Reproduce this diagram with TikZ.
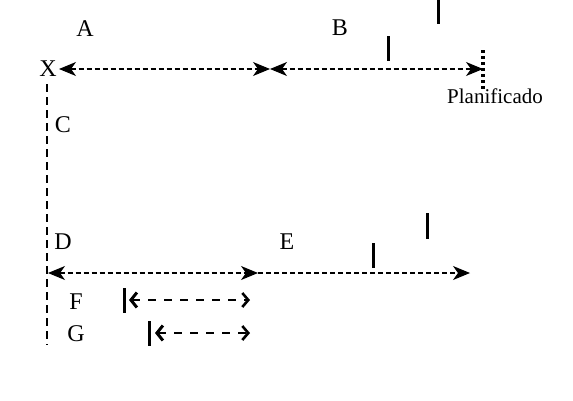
\documentclass[tikz,border=0pt]{standalone}
\usepackage{fontspec}
\setmainfont{Liberation Serif}
\usetikzlibrary{arrows.meta}
\begin{document}
\begin{tikzpicture}[x=1pt,y=-1pt,
  lbl/.style={inner sep=0pt,font=\fontsize{24}{26}\selectfont},
  small/.style={inner sep=0pt,font=\fontsize{21}{23}\selectfont},
  mainline/.style={line width=1.1pt,dash pattern=on 5pt off 3pt},
  subline/.style={line width=2.6pt,dash pattern=on 8pt off 8pt},
  tick/.style={line width=3pt}
]
\useasboundingbox (0,0) rectangle (573,400);
% labels
\node[lbl] (A) at (85,29) {A};
\node[lbl] (B) at (340,28) {B};
\node[lbl] (X) at (48,69) {X};
\node[lbl] (C) at (63,125) {C};
\node[lbl] (D) at (63,242) {D};
\node[lbl] (E) at (287,242) {E};
\node[lbl] (F) at (76,302) {F};
\node[lbl] (G) at (76,334) {G};
\node[small] (P) at (495,96) {Planificado};
% coordinates
\coordinate (t0) at (59,69);
\coordinate (t1) at (270,69);
\coordinate (t2) at (483,69);
\coordinate (b0) at (48,273);
\coordinate (b1) at (258,273);
\coordinate (b2) at (470,273);
\coordinate (v0) at (47,84);
\coordinate (v1) at (47,345);
\coordinate (f0) at (129,300);
\coordinate (f1) at (250,300);
\coordinate (g0) at (155,333);
\coordinate (g1) at (250,333);
% vertical dashed line
\draw[line width=1.1pt,dash pattern=on 8pt off 5pt] (v0) -- (v1);
% top lines
\draw[mainline,{Stealth[length=17pt,width=14pt,inset=5pt]}-{Stealth[length=17pt,width=14pt,inset=5pt]}] (t0) -- (t1);
\draw[mainline,{Stealth[length=17pt,width=14pt,inset=5pt]}-{Stealth[length=17pt,width=14pt,inset=5pt]}] (t1) -- (t2);
% bottom lines
\draw[mainline,{Stealth[length=17pt,width=14pt,inset=5pt]}-{Stealth[length=17pt,width=14pt,inset=5pt]}] (b0) -- (b1);
\draw[mainline,-{Stealth[length=17pt,width=14pt,inset=5pt]}] (b1) -- (b2);
% planned marker
\draw[line width=3.5pt,dash pattern=on 3pt off 3pt] (483,50) -- (483,89);
% ticks
\draw[tick] (438,0) -- (438,24);
\draw[tick] (388,36) -- (388,61);
\draw[tick] (427,213) -- (427,239);
\draw[tick] (373,243) -- (373,268);
\draw[tick] (124,288) -- (124,313);
\draw[tick] (149,321) -- (149,346);
% F, G arrows
\draw[subline,{Straight Barb[length=6pt,width=15pt,line width=3pt]}-{Straight Barb[length=6pt,width=14pt,line width=2.6pt]}] (f0) -- (f1);
\draw[subline,{Straight Barb[length=6pt,width=15pt,line width=3pt]}-{Straight Barb[length=6pt,width=14pt,line width=2.6pt]}] (g0) -- (g1);
\end{tikzpicture}
\end{document}
